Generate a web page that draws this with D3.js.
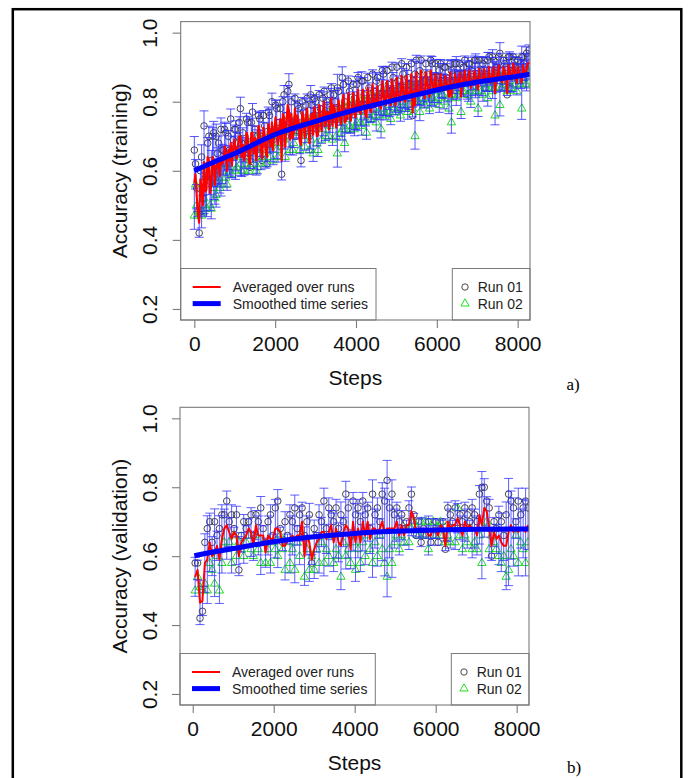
<!DOCTYPE html>
<html><head><meta charset="utf-8">
<script src="https://cdn.jsdelivr.net/npm/d3@7"></script>
<style>body{margin:0;background:#fff}</style></head>
<body>
<svg id="c" width="688" height="778"></svg>
<script>
// ---------- DATA ----------
const trainSteps = d3.range(0, 8281, 30);
const trainRun01 = [
 0.66,0.62,0.55,0.48,0.42,0.60,0.64,0.52,0.73,0.58,
 0.60,0.68,0.70,0.57,0.63,0.70,0.71,0.60,0.70,0.65,
 0.68,0.62,0.72,0.66,0.66,0.72,0.71,0.64,0.70,0.66,
 0.75,0.64,0.69,0.72,0.72,0.66,0.70,0.74,0.78,0.68,
 0.71,0.66,0.68,0.75,0.74,0.65,0.61,0.74,0.77,0.68,
 0.72,0.66,0.70,0.76,0.75,0.70,0.63,0.76,0.73,0.68,
 0.62,0.77,0.76,0.70,0.80,0.69,0.72,0.79,0.78,0.71,
 0.74,0.78,0.59,0.80,0.82,0.70,0.76,0.83,0.85,0.72,
 0.80,0.73,0.74,0.81,0.70,0.79,0.78,0.71,0.63,0.80,
 0.77,0.72,0.79,0.81,0.74,0.70,0.82,0.79,0.76,0.81,
 0.80,0.72,0.75,0.82,0.78,0.74,0.81,0.83,0.76,0.80,
 0.79,0.74,0.82,0.84,0.77,0.82,0.80,0.75,0.84,0.83,
 0.78,0.76,0.87,0.85,0.80,0.77,0.76,0.86,0.83,0.77,
 0.79,0.85,0.81,0.78,0.85,0.87,0.78,0.79,0.86,0.86,
 0.82,0.79,0.80,0.87,0.84,0.80,0.79,0.88,0.83,0.81,
 0.86,0.87,0.81,0.82,0.84,0.89,0.88,0.82,0.82,0.89,
 0.85,0.83,0.83,0.90,0.87,0.83,0.81,0.90,0.86,0.84,
 0.84,0.91,0.88,0.84,0.82,0.90,0.87,0.85,0.85,0.91,
 0.76,0.86,0.88,0.92,0.84,0.85,0.89,0.92,0.86,0.86,
 0.83,0.91,0.88,0.86,0.85,0.92,0.91,0.87,0.87,0.91,
 0.84,0.87,0.89,0.91,0.86,0.87,0.90,0.90,0.87,0.86,
 0.85,0.91,0.89,0.88,0.86,0.91,0.91,0.88,0.88,0.91,
 0.86,0.88,0.90,0.92,0.87,0.88,0.91,0.91,0.88,0.89,
 0.86,0.92,0.92,0.88,0.89,0.92,0.87,0.89,0.91,0.92,
 0.88,0.89,0.92,0.93,0.86,0.89,0.93,0.92,0.89,0.90,
 0.90,0.93,0.94,0.89,0.87,0.92,0.91,0.90,0.82,0.93,
 0.93,0.90,0.89,0.93,0.92,0.90,0.88,0.92,0.90,0.91,
 0.93,0.93,0.91,0.90,0.94,0.93,0.95];
const trainRun02 = [
 0.47,0.56,0.50,0.47,0.48,0.55,0.47,0.48,0.52,0.50,
 0.49,0.60,0.56,0.50,0.49,0.58,0.55,0.52,0.53,0.57,
 0.58,0.55,0.56,0.58,0.60,0.62,0.58,0.56,0.62,0.60,
 0.61,0.59,0.64,0.66,0.60,0.61,0.65,0.66,0.62,0.60,
 0.64,0.60,0.62,0.67,0.66,0.60,0.63,0.68,0.65,0.62,
 0.67,0.60,0.61,0.70,0.66,0.62,0.64,0.69,0.68,0.62,
 0.66,0.70,0.67,0.64,0.68,0.63,0.71,0.72,0.66,0.64,
 0.70,0.72,0.67,0.73,0.69,0.64,0.72,0.75,0.70,0.66,
 0.73,0.66,0.68,0.75,0.74,0.73,0.71,0.66,0.72,0.74,
 0.74,0.67,0.70,0.75,0.72,0.66,0.69,0.74,0.65,0.76,
 0.73,0.68,0.66,0.76,0.74,0.69,0.72,0.77,0.70,0.74,
 0.75,0.70,0.73,0.78,0.69,0.76,0.75,0.70,0.65,0.78,
 0.74,0.71,0.72,0.79,0.68,0.72,0.75,0.79,0.73,0.72,
 0.76,0.80,0.72,0.73,0.74,0.80,0.77,0.74,0.73,0.81,
 0.76,0.74,0.71,0.81,0.77,0.75,0.75,0.82,0.78,0.76,
 0.74,0.82,0.77,0.76,0.72,0.83,0.78,0.77,0.76,0.83,
 0.79,0.77,0.75,0.83,0.80,0.78,0.77,0.84,0.79,0.78,
 0.76,0.84,0.80,0.79,0.78,0.85,0.77,0.79,0.81,0.85,
 0.78,0.80,0.70,0.85,0.80,0.80,0.77,0.86,0.81,0.80,
 0.79,0.86,0.82,0.81,0.78,0.86,0.81,0.81,0.80,0.85,
 0.83,0.81,0.79,0.85,0.82,0.82,0.80,0.85,0.84,0.81,
 0.78,0.86,0.74,0.82,0.83,0.85,0.81,0.82,0.84,0.86,
 0.77,0.83,0.83,0.86,0.85,0.82,0.82,0.87,0.80,0.83,
 0.84,0.86,0.83,0.83,0.78,0.87,0.85,0.83,0.82,0.87,
 0.84,0.84,0.81,0.87,0.85,0.84,0.83,0.88,0.76,0.84,
 0.86,0.88,0.79,0.84,0.84,0.88,0.86,0.85,0.83,0.88,
 0.86,0.84,0.84,0.89,0.87,0.85,0.83,0.88,0.86,0.85,
 0.78,0.88,0.87,0.85,0.85,0.89,0.88];
const trainSmoothSteps = [0, 500, 1000, 2000, 3000, 4000, 5000, 6000, 7000, 8000, 8300];
const trainSmooth      = [0.600, 0.626, 0.650, 0.705, 0.743, 0.777, 0.806, 0.834, 0.857, 0.874, 0.880];

const validSteps = d3.range(60, 8281, 60);
const validRun01 = [
 0.58,0.58,0.42,0.44,0.64,0.68,0.70,0.64,0.70,0.66,
 0.68,0.72,0.72,0.76,0.70,0.72,0.68,0.72,0.56,0.66,
 0.70,0.68,0.70,0.72,0.66,0.72,0.70,0.74,0.68,0.64,
 0.70,0.72,0.66,0.74,0.76,0.68,0.64,0.70,0.66,0.72,
 0.70,0.74,0.68,0.72,0.74,0.66,0.70,0.72,0.58,0.68,
 0.66,0.72,0.70,0.76,0.68,0.74,0.72,0.70,0.74,0.68,
 0.72,0.70,0.78,0.74,0.66,0.76,0.72,0.74,0.70,0.76,
 0.72,0.74,0.68,0.78,0.72,0.74,0.70,0.78,0.76,0.82,
 0.74,0.78,0.72,0.74,0.70,0.72,0.68,0.70,0.74,0.78,
 0.72,0.66,0.70,0.64,0.68,0.66,0.70,0.64,0.66,0.70,
 0.64,0.68,0.70,0.62,0.74,0.72,0.70,0.74,0.68,0.72,
 0.70,0.74,0.72,0.70,0.74,0.72,0.70,0.78,0.80,0.80,
 0.76,0.74,0.60,0.70,0.68,0.72,0.70,0.66,0.72,0.78,
 0.76,0.74,0.70,0.76,0.72,0.74,0.76,0.74];
const validRun02 = [
 0.50,0.54,0.51,0.50,0.52,0.50,0.58,0.56,0.52,0.60,
 0.50,0.58,0.64,0.62,0.64,0.58,0.66,0.60,0.64,0.62,
 0.60,0.64,0.66,0.62,0.60,0.66,0.62,0.58,0.64,0.58,
 0.62,0.58,0.64,0.62,0.60,0.66,0.62,0.56,0.64,0.58,
 0.62,0.56,0.64,0.60,0.66,0.54,0.62,0.56,0.60,0.56,
 0.62,0.58,0.64,0.58,0.62,0.60,0.66,0.58,0.62,0.60,
 0.54,0.64,0.60,0.62,0.58,0.64,0.56,0.62,0.58,0.64,
 0.60,0.66,0.62,0.58,0.64,0.60,0.66,0.62,0.58,0.54,
 0.62,0.58,0.64,0.66,0.62,0.66,0.64,0.68,0.64,0.68,
 0.70,0.68,0.66,0.70,0.66,0.70,0.62,0.68,0.70,0.66,
 0.68,0.70,0.66,0.64,0.66,0.64,0.68,0.64,0.74,0.66,
 0.62,0.66,0.64,0.68,0.62,0.64,0.62,0.66,0.58,0.68,
 0.70,0.62,0.66,0.64,0.62,0.60,0.58,0.60,0.54,0.56,
 0.62,0.60,0.66,0.58,0.64,0.62,0.58,0.64];
const validSmoothSteps = [40, 500, 1000, 2000, 3000, 4000, 5000, 6000, 7000, 8000, 8300];
const validSmooth      = [0.601, 0.612, 0.622, 0.642, 0.656, 0.666, 0.672, 0.676, 0.678, 0.679, 0.679];

const xTicks = [0, 2000, 4000, 6000, 8000];
const yTicks = [0.2, 0.4, 0.6, 0.8, 1.0];
const legendLines = ["Averaged over runs", "Smoothed time series"];
const legendRuns = ["Run 01", "Run 02"];

// ---------- DRAW ----------
const svg = d3.select("#c");
const SANS = "'Liberation Sans', Arial, Helvetica, sans-serif";
const GREY = "#7a7a7a";

svg.append("rect").attr("x", 12.8).attr("y", 9.2).attr("width", 668.5).attr("height", 800)
  .attr("fill", "none").attr("stroke", "#000").attr("stroke-width", 2.5);

function panel(cfg, idx) {
  const x = d3.scaleLinear().domain(cfg.xd).range([cfg.left, cfg.right]);
  const y = d3.scaleLinear().domain([0.168, 1.032]).range([cfg.bottom, cfg.top]);
  const g = svg.append("g");
  const cid = "clip" + idx;
  g.append("clipPath").attr("id", cid).append("rect")
    .attr("x", cfg.left).attr("y", cfg.top)
    .attr("width", cfg.right - cfg.left).attr("height", cfg.bottom - cfg.top);

  const data = cfg.steps.map((s, i) => {
    const a = cfg.r1[i], b = cfg.r2[i];
    return {s, a, b, m: (a + b) / 2, e: Math.abs(a - b) / Math.SQRT2};
  });

  const plot = g.append("g").attr("clip-path", `url(#${cid})`);
  plot.append("g").selectAll("circle").data(data).join("circle")
    .attr("cx", d => x(d.s)).attr("cy", d => y(d.a)).attr("r", 3.3)
    .attr("fill", "none").attr("stroke", "#333").attr("stroke-width", 0.9);
  const tri = d3.symbol(d3.symbolTriangle, 30);
  plot.append("g").selectAll("path").data(data).join("path")
    .attr("d", tri).attr("transform", d => `translate(${x(d.s)},${y(d.b)})`)
    .attr("fill", "none").attr("stroke", "#22dd22").attr("stroke-width", 1);
  const eb = plot.append("g").attr("stroke", "#2a2aff").attr("stroke-opacity", cfg.ebOp).attr("stroke-width", 1);
  data.forEach(d => {
    const x0 = x(d.s), y1 = y(d.m - d.e), y2 = y(d.m + d.e);
    eb.append("line").attr("x1", x0).attr("x2", x0).attr("y1", y1).attr("y2", y2);
    eb.append("line").attr("x1", x0 - 4.5).attr("x2", x0 + 4.5).attr("y1", y1).attr("y2", y1);
    eb.append("line").attr("x1", x0 - 4.5).attr("x2", x0 + 4.5).attr("y1", y2).attr("y2", y2);
  });
  plot.append("path").datum(data)
    .attr("d", d3.line().x(d => x(d.s)).y(d => y(d.m)))
    .attr("fill", "none").attr("stroke", "#ff0000").attr("stroke-width", cfg.redW).attr("stroke-linejoin", "round");
  const sm = cfg.ss.map((s, i) => ({s, v: cfg.sv[i]}));
  plot.append("path").datum(sm)
    .attr("d", d3.line().curve(d3.curveMonotoneX).x(d => x(d.s)).y(d => y(d.v)))
    .attr("fill", "none").attr("stroke", "#0000ff").attr("stroke-width", 5);

  // legend
  const lt = cfg.bottom - 51.5;
  g.append("rect").attr("x", cfg.left).attr("y", lt).attr("width", 195.3).attr("height", cfg.bottom - lt)
    .attr("fill", "#fff").attr("stroke", GREY).attr("stroke-width", 1);
  g.append("rect").attr("x", cfg.right - 77.7).attr("y", lt).attr("width", 77.7).attr("height", cfg.bottom - lt)
    .attr("fill", "#fff").attr("stroke", GREY).attr("stroke-width", 1);
  const rows = [cfg.bottom - 33, cfg.bottom - 16.4];
  g.append("line").attr("x1", cfg.left + 12).attr("x2", cfg.left + 40).attr("y1", rows[0]).attr("y2", rows[0])
    .attr("stroke", "#ff0000").attr("stroke-width", 2);
  g.append("line").attr("x1", cfg.left + 12).attr("x2", cfg.left + 40).attr("y1", rows[1]).attr("y2", rows[1])
    .attr("stroke", "#0000ff").attr("stroke-width", 5);
  legendLines.forEach((t, i) => g.append("text").attr("x", cfg.left + 52).attr("y", rows[i] + 5)
    .attr("font-family", SANS).attr("font-size", 14).attr("fill", "#222").text(t));
  g.append("circle").attr("cx", cfg.right - 65).attr("cy", rows[0]).attr("r", 3.2)
    .attr("fill", "none").attr("stroke", "#333").attr("stroke-width", 0.9);
  g.append("path").attr("d", tri).attr("transform", `translate(${cfg.right - 65},${rows[1]})`)
    .attr("fill", "none").attr("stroke", "#22dd22").attr("stroke-width", 1);
  legendRuns.forEach((t, i) => g.append("text").attr("x", cfg.right - 52.3).attr("y", rows[i] + 5)
    .attr("font-family", SANS).attr("font-size", 14).attr("fill", "#222").text(t));

  g.append("rect").attr("x", cfg.left).attr("y", cfg.top)
    .attr("width", cfg.right - cfg.left).attr("height", cfg.bottom - cfg.top)
    .attr("fill", "none").attr("stroke", GREY).attr("stroke-width", 1.1);

  const ax = g.append("g").attr("transform", `translate(0,${cfg.bottom})`)
    .call(d3.axisBottom(x).tickValues(xTicks).tickFormat(d3.format("d")).tickSize(8));
  ax.select(".domain").remove();
  ax.selectAll("line").attr("stroke", GREY).attr("stroke-width", 1.1);
  ax.selectAll("text").attr("y", 31).attr("dy", 0).attr("font-family", SANS).attr("font-size", 21).attr("fill", "#111");

  const ay = g.append("g").attr("transform", `translate(${cfg.left},0)`)
    .call(d3.axisLeft(y).tickValues(yTicks).tickFormat(d3.format(".1f")).tickSize(8));
  ay.select(".domain").remove();
  ay.selectAll("line").attr("stroke", GREY).attr("stroke-width", 1.1);
  ay.selectAll("text").attr("x", 0).attr("y", -23.5).attr("dy", 0).attr("text-anchor", "middle")
    .attr("transform", "rotate(-90)").attr("font-family", SANS).attr("font-size", 21).attr("fill", "#111");

  g.append("text").attr("x", (cfg.left + cfg.right) / 2).attr("y", cfg.bottom + 65)
    .attr("text-anchor", "middle").attr("font-family", SANS).attr("font-size", 21).attr("fill", "#111").text("Steps");
  g.append("text").attr("transform", `translate(127,${(cfg.top + cfg.bottom) / 2}) rotate(-90)`)
    .attr("text-anchor", "middle").attr("font-family", SANS).attr("font-size", 21).attr("fill", "#111").text(cfg.ylab);

  g.append("text").attr("x", cfg.tagX).attr("y", cfg.tagY).attr("text-anchor", "middle")
    .attr("font-family", "'Liberation Serif', 'Times New Roman', serif").attr("font-size", 17).attr("fill", "#000").text(cfg.tag);
}

panel({steps: trainSteps, r1: trainRun01, r2: trainRun02, ss: trainSmoothSteps, sv: trainSmooth,
  xd: [-337, 8305], left: 180.7, right: 530, top: 21.6, bottom: 320, ebOp: 0.8, redW: 2.2,
  ylab: "Accuracy (training)", tag: "a)", tagX: 573, tagY: 390}, 0);
panel({steps: validSteps, r1: validRun01, r2: validRun02, ss: validSmoothSteps, sv: validSmooth,
  xd: [-314, 8304], left: 180, right: 529, top: 407.3, bottom: 705, ebOp: 0.75, redW: 2,
  ylab: "Accuracy (validation)", tag: "b)", tagX: 574, tagY: 773}, 1);
</script>
</body></html>
